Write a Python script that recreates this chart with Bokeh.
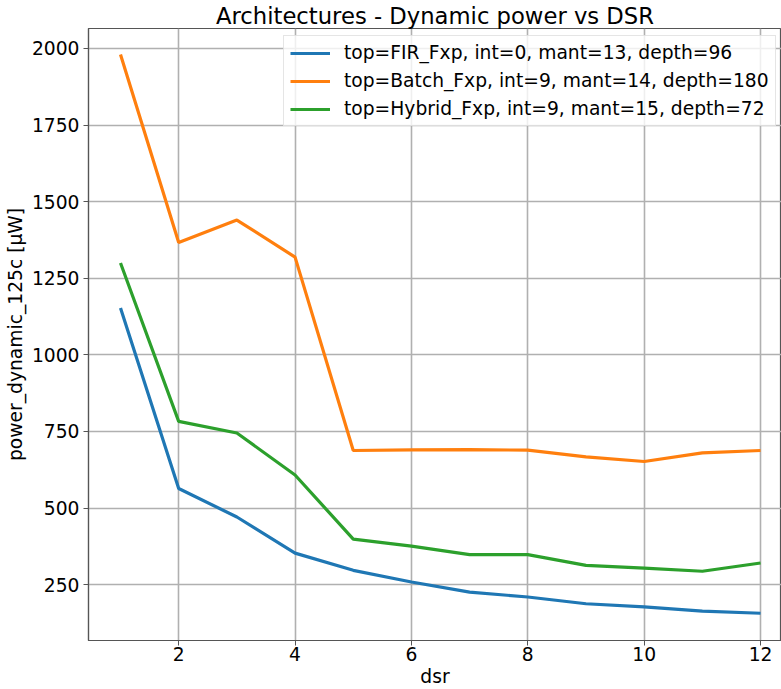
from bokeh.plotting import figure
from bokeh.models import FixedTicker, Legend, LegendItem, Range1d
from bokeh.embed import file_html
from bokeh.resources import INLINE

# Downsampling ratio values
dsr = [1, 2, 3, 4, 5, 6, 7, 8, 9, 10, 11, 12]

# Dynamic power at 125C [uW] per architecture
fir_fxp = [1153, 564, 471, 353, 297, 259, 226, 210, 188, 178, 164, 157]
batch_fxp = [1980, 1367, 1440, 1319, 688, 690, 691, 689, 667, 652, 680, 688]
hybrid_fxp = [1300, 783, 745, 608, 399, 376, 348, 348, 313, 304, 294, 321]

labels = [
    "top=FIR_Fxp, int=0, mant=13, depth=96",
    "top=Batch_Fxp, int=9, mant=14, depth=180",
    "top=Hybrid_Fxp, int=9, mant=15, depth=72",
]
colors = ["#1f77b4", "#ff7f0e", "#2ca02c"]

x_ticks = [2, 4, 6, 8, 10, 12]
y_ticks = [250, 500, 750, 1000, 1250, 1500, 1750, 2000]

FONT = "DejaVu Sans"
TXT = "18.7px"

p = figure(
    width=781, height=689,
    output_backend="svg", toolbar_location=None,
    x_range=Range1d(0.45, 12.36), y_range=Range1d(68, 2065),
    title="Architectures - Dynamic power vs DSR",
    min_border_left=88, min_border_right=0, min_border_top=28, min_border_bottom=49,
)

p.title.align = "center"
p.title.text_font = FONT
p.title.text_font_size = "22.7px"
p.title.text_font_style = "normal"
p.title.text_color = "black"
p.title.standoff = 0
p.title.offset = 6

p.outline_line_color = "#555555"
p.outline_line_width = 1.2

for ax in (p.xaxis[0], p.yaxis[0]):
    ax.axis_line_color = "#555555"
    ax.axis_line_width = 1.2
    ax.major_tick_line_color = "#555555"
    ax.major_tick_out = 5
    ax.major_tick_in = 0
    ax.minor_tick_line_color = None
    ax.major_label_text_font = FONT
    ax.major_label_text_font_size = TXT
    ax.major_label_text_color = "black"
    ax.axis_label_text_font = FONT
    ax.axis_label_text_font_size = TXT
    ax.axis_label_text_font_style = "normal"
    ax.axis_label_text_color = "black"

p.xaxis.ticker = FixedTicker(ticks=x_ticks)
p.yaxis.ticker = FixedTicker(ticks=y_ticks)
p.xaxis.axis_label = "dsr"
p.yaxis.axis_label = "power_dynamic_125c [µW]"
p.xaxis.major_label_standoff = 1
p.yaxis.major_label_standoff = 4
p.xaxis.axis_label_standoff = 2
p.yaxis.axis_label_standoff = 3

p.grid.grid_line_color = "#b0b0b0"
p.grid.grid_line_width = 1.6

renderers = []
for series, color in zip([fir_fxp, batch_fxp, hybrid_fxp], colors):
    r = p.line(dsr, series, line_color=color, line_width=3.2)
    renderers.append(r)

legend = Legend(
    items=[LegendItem(label=lab, renderers=[r]) for lab, r in zip(labels, renderers)],
    location=(195, 514),
    label_text_font=FONT,
    label_text_font_size=TXT,
    label_text_color="black",
    glyph_width=40,
    glyph_height=20,
    label_standoff=14,
    spacing=7,
    padding=6,
    margin=0,
    background_fill_color="white",
    background_fill_alpha=0.8,
    border_line_color="#cccccc",
    border_line_width=1,
)
p.add_layout(legend, "center")

open("out.html", "w").write(file_html(p, INLINE))
